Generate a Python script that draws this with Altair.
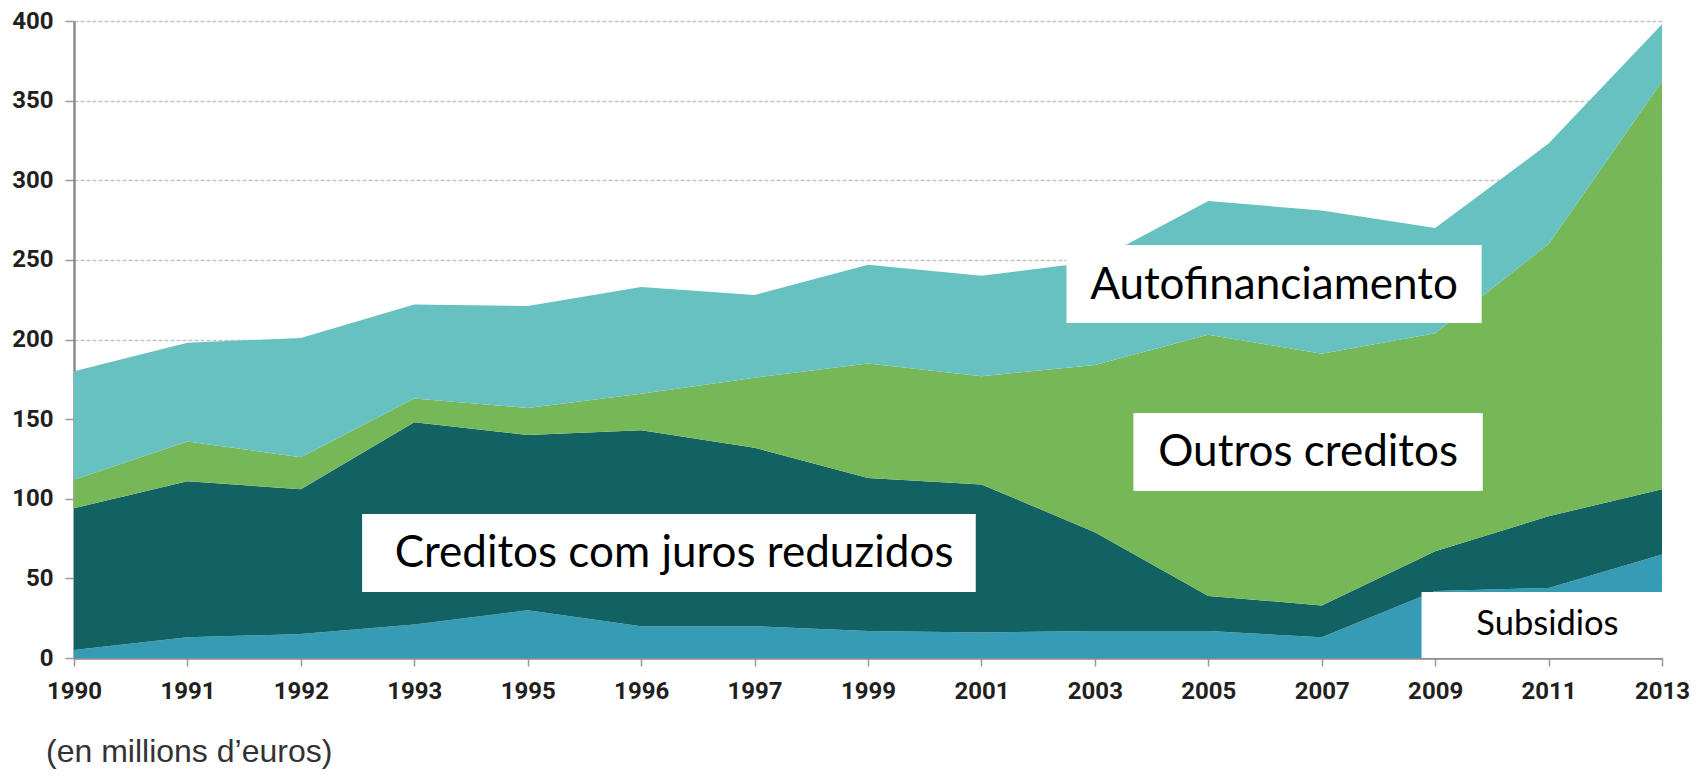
import altair as alt
import pandas as pd

years = ["1990", "1991", "1992", "1993", "1995", "1996", "1997", "1999",
         "2001", "2003", "2005", "2007", "2009", "2011", "2013"]
subsidios = [5, 13, 15, 21, 30, 20, 20, 17, 16, 17, 17, 13, 42, 44, 65]
creditos_juros = [89, 98, 91, 127, 110, 123, 112, 96, 93, 62, 22, 20, 25, 45, 41]
outros_creditos = [18, 25, 20, 15, 17, 23, 44, 72, 68, 105, 164, 158, 137, 171, 256]
autofinanciamento = [68, 62, 75, 59, 64, 67, 52, 62, 63, 65, 84, 90, 66, 63, 36]

series_names = ["Subsidios", "Creditos com juros reduzidos", "Outros creditos", "Autofinanciamento"]
series_colors = ["#369bb4", "#136263", "#76b857", "#67c1c0"]
series_values = [subsidios, creditos_juros, outros_creditos, autofinanciamento]

# annotation boxes (in data units: x = year index, y = value)
label_texts = ["Autofinanciamento", "Outros creditos", "Creditos com juros reduzidos", "Subsidios"]
box_x0 = [8.75, 9.34, 2.54, 11.88]
box_x1 = [12.41, 12.42, 7.95, 14.0]
box_y0 = [210.4, 104.9, 41.4, 0.0]
box_y1 = [259.3, 153.8, 90.4, 41.4]
text_x = [10.58, 10.88, 5.29, 12.99]
text_y = [233.8, 128.6, 65.2, 20.5]
text_size = [44, 44, 44, 34.5]

rows = []
for s_i, (name, vals) in enumerate(zip(series_names, series_values)):
    for i, v in enumerate(vals):
        rows.append({"idx": i, "year": years[i], "serie": name, "order": s_i, "value": v})
df = pd.DataFrame(rows)

boxes = pd.DataFrame({
    "label": label_texts, "x0": box_x0, "x1": box_x1, "y0": box_y0, "y1": box_y1,
    "tx": text_x, "ty": text_y, "size": text_size,
})

label_expr = "[" + ",".join(f"'{y}'" for y in years) + "][datum.value]"

axis_font = "Roboto"

x_scale = alt.Scale(domain=[0, len(years) - 1], nice=False, zero=False)
y_scale = alt.Scale(domain=[0, 400], nice=False)

area = alt.Chart(df).mark_area(opacity=1, interpolate="linear").encode(
    x=alt.X("idx:Q", scale=x_scale,
            axis=alt.Axis(values=list(range(len(years))), labelExpr=label_expr, title=None,
                          grid=False, domainColor="#8c8c8c", domainWidth=2.5,
                          tickColor="#9a9a9a", tickSize=8, tickWidth=1.5,
                          labelFont=axis_font, labelFontWeight="bold",
                          labelFontSize=24, labelColor="#231f20", labelPadding=13,
                          labelOverlap=False)),
    y=alt.Y("value:Q", stack="zero", scale=y_scale,
            axis=alt.Axis(values=list(range(0, 401, 50)), title=None, grid=True,
                          gridColor="#c4c4c4", gridDash=[4, 2], gridWidth=1.5,
                          domainColor="#8c8c8c", domainWidth=2.5,
                          tickColor="#9a9a9a", tickSize=9, tickWidth=1.5,
                          labelFont=axis_font, labelFontWeight="bold",
                          labelFontSize=24, labelColor="#231f20", labelPadding=12)),
    color=alt.Color("serie:N", scale=alt.Scale(domain=series_names, range=series_colors), legend=None),
    order=alt.Order("order:Q", sort="ascending"),
)

rects = alt.Chart(boxes).mark_rect(color="white", opacity=1).encode(
    x=alt.X("x0:Q", scale=x_scale), x2="x1:Q",
    y=alt.Y("y0:Q", scale=y_scale), y2="y1:Q",
)

texts = alt.Chart(boxes).mark_text(font="Lato", color="black", align="center", baseline="middle").encode(
    x=alt.X("tx:Q", scale=x_scale),
    y=alt.Y("ty:Q", scale=y_scale),
    text="label:N",
    size=alt.Size("size:Q", scale=None, legend=None),
)

chart = alt.layer(area, rects, texts).properties(
    width=1588, height=637,
    autosize=alt.AutoSizeParams(type="none"),
    padding={"left": 66, "top": 13, "right": 30, "bottom": 113},
    title=alt.TitleParams("(en millions d’euros)", orient="bottom", anchor="start", frame="group",
                          font="Liberation Sans", fontSize=32, fontWeight="normal",
                          color="#333333", dx=-28, offset=34),
).configure_view(stroke=None).configure_axis(labelFlush=False)

chart.save("out.html", embed_options={"renderer": "svg", "actions": False})
